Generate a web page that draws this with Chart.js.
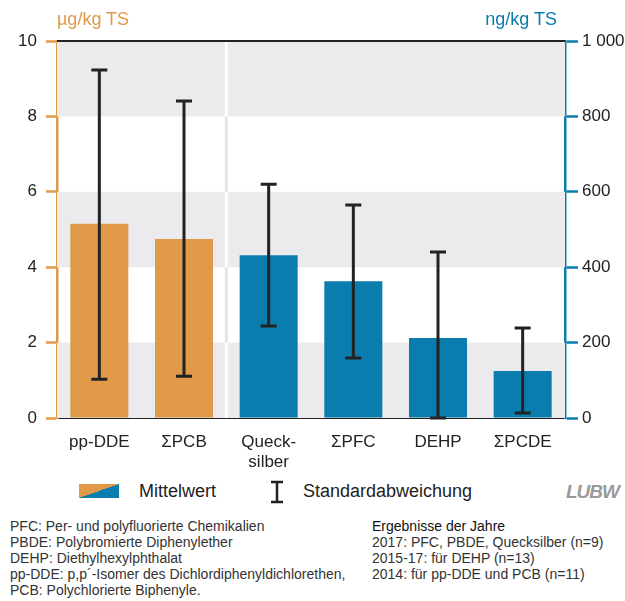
<!DOCTYPE html>
<html>
<head>
<meta charset="utf-8">
<script src="https://cdn.jsdelivr.net/npm/chart.js@4.4.1/dist/chart.umd.min.js"></script>
<style>
    body { margin: 0; background: #fff; font-family: "Liberation Sans", Arial, sans-serif; color: #222; }
    #wrap { position: relative; width: 625px; height: 601px; }
    #chart { position: absolute; left: 0; top: 0; }
    .unit { position: absolute; top: 9px; font-size: 18px; }
    .legend { position: absolute; top: 481px; font-size: 18px; }
    .swatch { position: absolute; left: 79px; top: 484px; width: 40px; height: 14px;
        background: linear-gradient(to bottom right, #E09A4A 50%, #0A7DAE 50%); }
    .notes { position: absolute; top: 518px; font-size: 14px; line-height: 16px; color: #333; }
    .logo { position: absolute; left: 566px; top: 481px; font-size: 19px; font-weight: bold;
        font-style: italic; color: #9a9a9a; letter-spacing: -1px; }
</style>
</head>
<body>
<div id="wrap">
    <canvas id="chart" width="625" height="470"></canvas>
    <div class="unit" style="left:57px;color:#E09A4A">µg/kg TS</div>
    <div class="unit" style="right:68px;color:#0A7DAE">ng/kg TS</div>
    <div class="swatch"></div>
    <div class="legend" style="left:139px">Mittelwert</div>
    <svg style="position:absolute;left:268px;top:480px" width="18" height="24">
        <path d="M3 2 H15 M9 2 V22 M3 22 H15" stroke="#222" stroke-width="2.5" fill="none"/>
    </svg>
    <div class="legend" style="left:303px">Standardabweichung</div>
    <div class="logo">LUBW</div>
    <div class="notes" style="left:10px">
        PFC: Per- und polyfluorierte Chemikalien<br>
        PBDE: Polybromierte Diphenylether<br>
        DEHP: Diethylhexylphthalat<br>
        pp-DDE: p,p´-Isomer des Dichlordiphenyldichlorethen,<br>
        PCB: Polychlorierte Biphenyle.
    </div>
    <div class="notes" style="left:372px">
        <span style="color:#111">Ergebnisse der Jahre</span><br>
        2017: PFC, PBDE, Quecksilber (n=9)<br>
        2015-17: für DEHP (n=13)<br>
        2014: für pp-DDE und PCB (n=11)
    </div>
</div>
<script>
// Chart data
const categories = ['pp-DDE', 'ΣPCB', ['Queck-', 'silber'], 'ΣPFC', 'DEHP', 'ΣPCDE'];
const meanUg = [5.15, 4.75, null, null, null, null];
const meanNg = [null, null, 432, 363, 212, 125];
const sdLowUg = [1.03, 1.11, null, null, null, null];
const sdHighUg = [9.23, 8.41, null, null, null, null];
const sdLowNg = [null, null, 244, 159, 0, 13];
const sdHighNg = [null, null, 620, 565, 440, 239];

const ORANGE = '#E09A4A';
const BLUE = '#0A7DAE';

// Background bands, separator and top line
const bandsPlugin = {
    id: 'bands',
    beforeDatasetsDraw(chart) {
        const { ctx, chartArea: a, scales } = chart;
        const y = scales.y;
        ctx.save();
        [[0, 2], [4, 6], [8, 10]].forEach(([lo, hi]) => {
            ctx.fillStyle = '#EBEBED';
            const top = y.getPixelForValue(hi);
            ctx.fillRect(a.left, top, a.right - a.left, y.getPixelForValue(lo) - top);
        });
        const xs = (scales.x.getPixelForValue(1) + scales.x.getPixelForValue(2)) / 2;
        ctx.lineWidth = 3;
        for (let v = 0; v < 10; v += 2) {
            const gray = (v / 2) % 2 === 0;
            ctx.strokeStyle = gray ? '#ffffff' : '#E4E4E6';
            ctx.beginPath();
            ctx.moveTo(xs, y.getPixelForValue(v + 2));
            ctx.lineTo(xs, y.getPixelForValue(v));
            ctx.stroke();
        }
        ctx.restore();
    },
    afterDraw(chart) {
        const { ctx, chartArea: a } = chart;
        ctx.save();
        ctx.strokeStyle = '#222';
        ctx.lineWidth = 2;
        ctx.beginPath();
        ctx.moveTo(a.left, a.top);
        ctx.lineTo(a.right, a.top);
        ctx.stroke();
        ctx.restore();
    }
};

// Standard deviation whiskers
const errorPlugin = {
    id: 'errors',
    afterDatasetsDraw(chart) {
        const { ctx, scales } = chart;
        const sets = [[scales.y, sdLowUg, sdHighUg], [scales.y2, sdLowNg, sdHighNg]];
        ctx.save();
        ctx.strokeStyle = '#222';
        ctx.lineWidth = 3;
        sets.forEach(([sc, lows, highs]) => {
            lows.forEach((lo, i) => {
                if (lo === null) return;
                const x = scales.x.getPixelForValue(i);
                const y1 = sc.getPixelForValue(lo);
                const y2 = sc.getPixelForValue(highs[i]);
                ctx.beginPath();
                ctx.moveTo(x, y1); ctx.lineTo(x, y2);
                ctx.moveTo(x - 8, y1); ctx.lineTo(x + 8, y1);
                ctx.moveTo(x - 8, y2); ctx.lineTo(x + 8, y2);
                ctx.stroke();
            });
        });
        ctx.restore();
    }
};

const tickFont = { family: 'Liberation Sans', size: 17 };

new Chart(document.getElementById('chart'), {
    type: 'bar',
    data: {
        labels: categories,
        datasets: [
            { data: meanUg, yAxisID: 'y', backgroundColor: ORANGE, grouped: false,
              categoryPercentage: 1, barPercentage: 0.685 },
            { data: meanNg, yAxisID: 'y2', backgroundColor: BLUE, grouped: false,
              categoryPercentage: 1, barPercentage: 0.685 }
        ]
    },
    options: {
        responsive: false,
        animation: false,
        layout: { padding: { top: 41 } },
        plugins: { legend: { display: false }, tooltip: { enabled: false } },
        scales: {
            x: {
                grid: { display: false },
                border: { color: '#222', width: 2 },
                ticks: { color: '#222', font: { family: 'Liberation Sans', size: 17, lineHeight: 1.2 },
                         padding: 6, maxRotation: 0 },
                afterFit: s => { s.height = 52; }
            },
            y: {
                position: 'left',
                min: 0, max: 10,
                ticks: { stepSize: 2, color: '#222', font: tickFont, padding: 9 },
                grid: { drawOnChartArea: false, tickLength: 11, tickColor: ORANGE, tickWidth: 2.5 },
                border: { color: ORANGE, width: 2.5 },
                afterFit: s => { s.width = 57; }
            },
            y2: {
                position: 'right',
                min: 0, max: 1000,
                ticks: { stepSize: 200, color: '#222', font: tickFont, padding: 4,
                         callback: v => v === 1000 ? '1 000' : v },
                grid: { drawOnChartArea: false, tickLength: 13, tickColor: BLUE, tickWidth: 2.5 },
                border: { color: BLUE, width: 2.5 },
                afterFit: s => { s.width = 60; }
            }
        }
    },
    plugins: [bandsPlugin, errorPlugin]
});
</script>
</body>
</html>
